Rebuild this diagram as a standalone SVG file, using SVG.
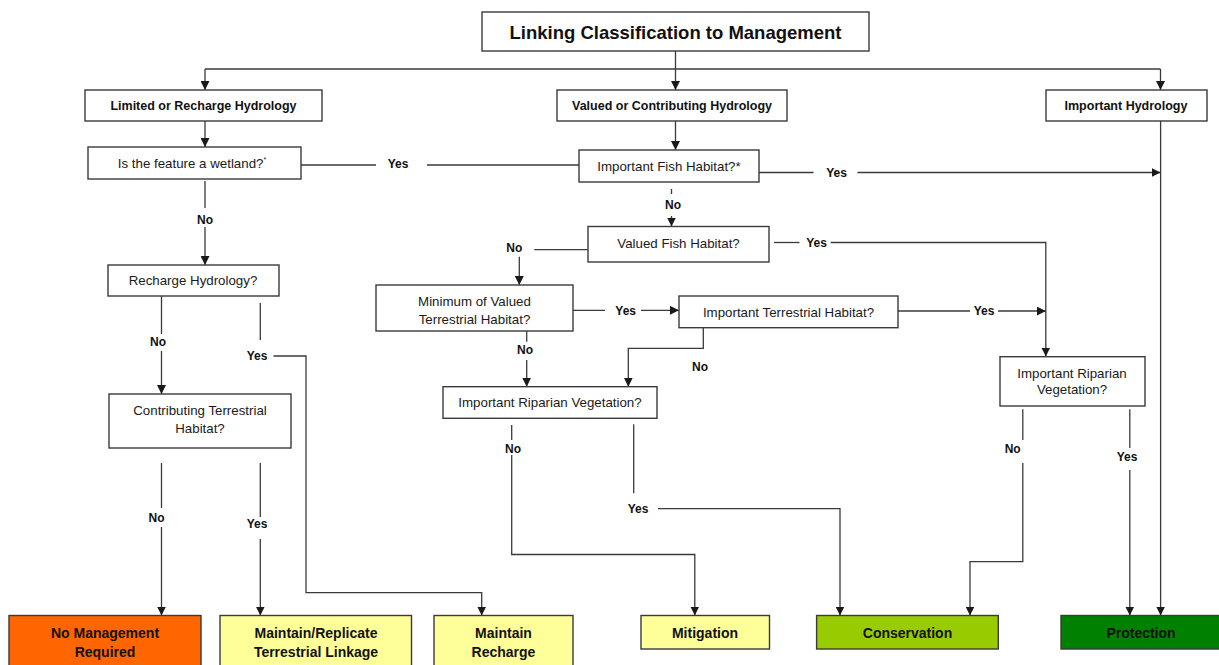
<svg xmlns="http://www.w3.org/2000/svg" width="1219" height="665" viewBox="0 0 1219 665">
<defs>
<marker id="ah" viewBox="0 0 10 10" refX="10" refY="5" markerWidth="9" markerHeight="9" markerUnits="userSpaceOnUse" orient="auto">
<path d="M0,0 L10,5 L0,10 z" fill="#1a1a1a"/>
</marker>
<style>
.box{fill:#ffffff;stroke:#3a3a3a;stroke-width:1.4}
.out{stroke:#3a3a3a;stroke-width:1.4}
.t{font-family:"Liberation Sans",Arial,sans-serif;font-size:13.3px;fill:#1a1a1a;text-anchor:middle}
.hb{font-family:"Liberation Sans",Arial,sans-serif;font-size:12.5px;font-weight:bold;fill:#111;text-anchor:middle}
.lb{font-family:"Liberation Sans",Arial,sans-serif;font-size:12px;font-weight:bold;fill:#111;text-anchor:middle}
.ob{font-family:"Liberation Sans",Arial,sans-serif;font-size:14px;font-weight:bold;fill:#111;text-anchor:middle}
.c{fill:none;stroke:#3a3a3a;stroke-width:1.3}
.a{marker-end:url(#ah)}
</style>
</defs>
<rect width="1219" height="665" fill="#ffffff"/>

<g id="connectors">
<path class="c a" d="M675.5,51 V90"/>
<path class="c" d="M205,69 H1160.5"/>
<path class="c a" d="M205,69 V90"/>
<path class="c a" d="M1160.5,69 V90"/>
<path class="c a" d="M205,121 V147"/>
<path class="c" d="M301,165 H376"/>
<path class="c" d="M427,165 H579"/>
<path class="c" d="M205,181 V208"/>
<path class="c a" d="M205,227 V265"/>
<path class="c" d="M161.5,296 V334"/>
<path class="c a" d="M161.5,351 V394"/>
<path class="c" d="M260.3,303 V340"/>
<path class="c a" d="M273.5,356 H306 V592.7 H481.7 V615.5"/>
<path class="c" d="M161.5,463 V508"/>
<path class="c a" d="M161.5,527 V615.5"/>
<path class="c" d="M260.3,463 V517"/>
<path class="c a" d="M260.3,539 V615.5"/>
<path class="c a" d="M675.5,121 V150"/>
<path class="c" d="M759,172.5 H813.5"/>
<path class="c a" d="M857.5,172.5 H1160.5"/>
<path class="c" d="M671.5,189 V194"/>
<path class="c a" d="M671.5,216 V226.5"/>
<path class="c" d="M774,242.5 H799.5"/>
<path class="c a" d="M830.6,242.5 H1045.8 V356.5"/>
<path class="c" d="M587.7,249.7 H534.3"/>
<path class="c a" d="M519.3,256.7 V285"/>
<path class="c" d="M572.7,310.3 H605"/>
<path class="c a" d="M641,310.3 H679"/>
<path class="c" d="M898,311 H970"/>
<path class="c a" d="M998,311 H1045.8"/>
<path class="c a" d="M703.3,327.7 V348.3 H628.3 V386.7"/>
<path class="c" d="M526.7,331 V341.7"/>
<path class="c a" d="M526.7,360 V386.7"/>
<path class="c" d="M511.7,425 V440"/>
<path class="c a" d="M511.7,455 V554.5 H694.8 V615.5"/>
<path class="c" d="M633.7,424.3 V493.3"/>
<path class="c a" d="M658,508.7 H840 V615.5"/>
<path class="c" d="M1022.8,409.3 V440"/>
<path class="c a" d="M1022.8,463 V561.7 H970 V615.5"/>
<path class="c" d="M1129.8,409.3 V448"/>
<path class="c a" d="M1129.8,470 V615.5"/>
<path class="c a" d="M1160.6,121 V615.5"/>

<text class="lb" x="398" y="168">Yes</text>
<text class="lb" x="205" y="223.5">No</text>
<text class="lb" x="158" y="346">No</text>
<text class="lb" x="257" y="359.5">Yes</text>
<text class="lb" x="156.5" y="521.5">No</text>
<text class="lb" x="257" y="528">Yes</text>
<text class="lb" x="836.5" y="176.5">Yes</text>
<text class="lb" x="673" y="208.5">No</text>
<text class="lb" x="816.6" y="246.5">Yes</text>
<text class="lb" x="514.3" y="251.5">No</text>
<text class="lb" x="625.7" y="314.8">Yes</text>
<text class="lb" x="984" y="315">Yes</text>
<text class="lb" x="700" y="371">No</text>
<text class="lb" x="525" y="353.8">No</text>
<text class="lb" x="513" y="452.5">No</text>
<text class="lb" x="638" y="513">Yes</text>
<text class="lb" x="1012.7" y="452.5">No</text>
<text class="lb" x="1127" y="460.5">Yes</text>
</g>

<g id="title">
<rect class="box" x="482" y="12" width="387" height="39"/>
<text x="675.5" y="38.5" style="font-family:'Liberation Sans',Arial,sans-serif;font-size:18.5px;font-weight:bold;fill:#111;text-anchor:middle">Linking Classification to Management</text>
</g>

<g id="limited">
<rect class="box" x="85" y="90" width="237" height="31"/>
<text class="hb" x="203.5" y="110">Limited or Recharge Hydrology</text>
</g>
<g id="valued">
<rect class="box" x="557" y="90" width="230" height="31"/>
<text class="hb" x="672" y="110">Valued or Contributing Hydrology</text>
</g>
<g id="important-hydrology">
<rect class="box" x="1046" y="90" width="161" height="31"/>
<text class="hb" x="1126" y="110">Important Hydrology</text>
</g>

<g id="wetland">
<rect class="box" x="88" y="147" width="213" height="32"/>
<text class="t" x="192" y="168">Is the feature a wetland?<tspan font-size="7" dy="-6">*</tspan></text>
</g>
<g id="recharge">
<rect class="box" x="108" y="265" width="171" height="31"/>
<text class="t" x="193" y="285">Recharge Hydrology?</text>
</g>
<g id="contributing">
<rect class="box" x="109" y="394" width="182" height="54"/>
<text class="t" x="200" y="415">Contributing Terrestrial</text>
<text class="t" x="200" y="433">Habitat?</text>
</g>

<g id="fish-important">
<rect class="box" x="579" y="150" width="180" height="32"/>
<text class="t" x="669" y="171">Important Fish Habitat?*</text>
</g>
<g id="fish-valued">
<rect class="box" x="588" y="226.5" width="181" height="35.5"/>
<text class="t" x="678.5" y="247.5">Valued Fish Habitat?</text>
</g>
<g id="min-terrestrial">
<rect class="box" x="376" y="285" width="197" height="46"/>
<text class="t" x="474.5" y="306">Minimum of Valued</text>
<text class="t" x="474.5" y="324">Terrestrial Habitat?</text>
</g>
<g id="imp-terrestrial">
<rect class="box" x="679" y="296" width="219" height="31.7"/>
<text class="t" x="788.5" y="316.5">Important Terrestrial Habitat?</text>
</g>
<g id="riparian-left">
<rect class="box" x="443" y="386.7" width="214" height="31.6"/>
<text class="t" x="550" y="406.5">Important Riparian Vegetation?</text>
</g>
<g id="riparian-right">
<rect class="box" x="1000" y="356.7" width="145" height="49.3"/>
<text class="t" x="1072" y="377.5">Important Riparian</text>
<text class="t" x="1072" y="394">Vegetation?</text>
</g>

<g id="no-management">
<rect class="out" x="9" y="615.5" width="192" height="60" fill="#ff6600"/>
<text class="ob" x="105" y="637.5">No Management</text>
<text class="ob" x="105" y="656.5">Required</text>
</g>
<g id="maintain-linkage">
<rect class="out" x="220" y="615.5" width="191.5" height="60" fill="#ffff99"/>
<text class="ob" x="316" y="637.5">Maintain/Replicate</text>
<text class="ob" x="316" y="656.5">Terrestrial Linkage</text>
</g>
<g id="maintain-recharge">
<rect class="out" x="434" y="615.5" width="139" height="60" fill="#ffff99"/>
<text class="ob" x="503.5" y="637.5">Maintain</text>
<text class="ob" x="503.5" y="656.5">Recharge</text>
</g>
<g id="mitigation">
<rect class="out" x="641" y="615.5" width="128.5" height="33.5" fill="#ffff99"/>
<text class="ob" x="705" y="637.5">Mitigation</text>
</g>
<g id="conservation">
<rect class="out" x="816.6" y="615.5" width="181.7" height="33.5" fill="#99cc00"/>
<text class="ob" x="907.5" y="637.5">Conservation</text>
</g>
<g id="protection">
<rect class="out" x="1061" y="615.5" width="170" height="33.5" fill="#008000"/>
<text class="ob" x="1141" y="637.5">Protection</text>
</g>
</svg>
